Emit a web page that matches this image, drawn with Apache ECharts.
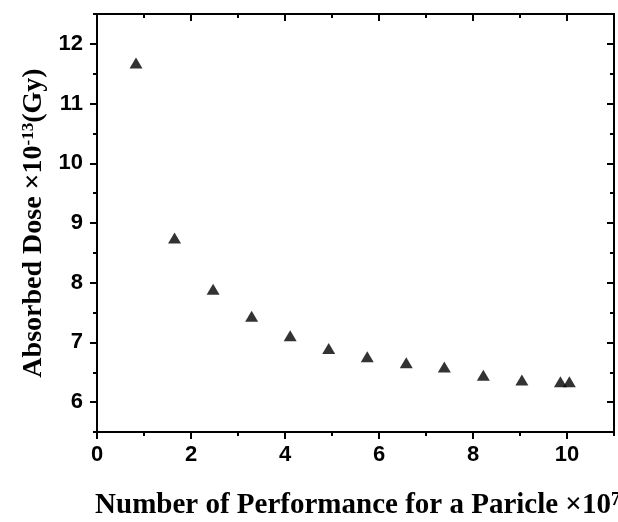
<!DOCTYPE html>
<html>
<head>
<meta charset="utf-8">
<script src="https://cdn.jsdelivr.net/npm/echarts@6/dist/echarts.min.js"></script>
<style>
  html, body { margin: 0; padding: 0; background: #fff; }
  #main { width: 618px; height: 522px; }
</style>
</head>
<body>
<div id="main"></div>
<script>
// particles (x10^7) vs absorbed dose (x10^-13 Gy)
const particles = [0.83, 1.65, 2.47, 3.29, 4.11, 4.93, 5.75, 6.58, 7.39, 8.22, 9.04, 9.86, 10.05];
const dose = [11.68, 8.75, 7.89, 7.44, 7.11, 6.90, 6.76, 6.66, 6.59, 6.45, 6.37, 6.34, 6.34];

const xMajor = [0, 2, 4, 6, 8, 10];
const xMinor = [1, 3, 5, 7, 9, 11];
const yMajor = [6, 7, 8, 9, 10, 11, 12];
const yMinor = [5.5, 6.5, 7.5, 8.5, 9.5, 10.5, 11.5, 12.5];

const chart = echarts.init(document.getElementById('main'));

const lineStyle = { color: '#000', width: 2 };
const labelFont = {
  fontFamily: 'Liberation Sans, Arial, sans-serif',
  fontWeight: 'bold',
  fontSize: 22,
  color: '#000',
};
const titleFont = {
  fontFamily: 'Liberation Serif, Times New Roman, serif',
  fontWeight: 'bold',
  fontSize: 28,
  color: '#000',
};

// one axis = one set of ticks; major/minor and the mirrored sides are stacked
function xAxisOf(position, ticks, len, inside, extra) {
  return Object.assign({
    type: 'value',
    position,
    min: 0,
    max: 11,
    axisLine: { show: true, onZero: false, lineStyle },
    axisTick: {
      show: true, inside, length: len, customValues: ticks, lineStyle,
    },
    axisLabel: { show: false },
    splitLine: { show: false },
  }, extra || {});
}

function yAxisOf(position, ticks, len, inside, extra) {
  return Object.assign({
    type: 'value',
    position,
    min: 5.5,
    max: 12.5,
    axisLine: { show: true, onZero: false, lineStyle },
    axisTick: {
      show: true, inside, length: len, customValues: ticks, lineStyle,
    },
    axisLabel: { show: false },
    splitLine: { show: false },
  }, extra || {});
}

const option = {
  backgroundColor: '#fff',
  animation: false,
  grid: {
    left: 97, right: 4, top: 14, bottom: 90,
    containLabel: false,
    outerBoundsMode: 'none', // the x title is allowed to run off the page
  },
  xAxis: [
    xAxisOf('bottom', xMajor, 7, false, {
      axisLabel: Object.assign({ show: true, margin: 12, customValues: xMajor }, labelFont),
      name: '{t|Number of Performance for a Paricle ×10}{sup|7}',
      nameLocation: 'middle',
      nameGap: 59,
      nameTextStyle: {
        padding: [0, 0, 0, 4],
        rich: {
          t: Object.assign({}, titleFont, { fontSize: 29 }),
          sup: Object.assign({}, titleFont, { fontSize: 18, verticalAlign: 'top' }),
        },
      },
    }),
    xAxisOf('bottom', xMinor, 4, false),
    xAxisOf('top', xMajor, 7, true),
    xAxisOf('top', xMinor, 4, true),
  ],
  yAxis: [
    yAxisOf('left', yMajor, 7, false, {
      axisLabel: Object.assign({ show: true, margin: 14, customValues: yMajor }, labelFont),
      name: '{t|Absorbed Dose ×10}{sup|-13}{t|(Gy)}',
      nameLocation: 'middle',
      nameGap: 44,
      nameTextStyle: {
        rich: {
          t: Object.assign({}, titleFont),
          sup: Object.assign({}, titleFont, { fontSize: 17, verticalAlign: 'top' }),
        },
      },
    }),
    yAxisOf('left', yMinor, 4, false),
    yAxisOf('right', yMajor, 7, true),
    yAxisOf('right', yMinor, 4, true),
  ],
  series: [
    {
      type: 'scatter',
      xAxisIndex: 0,
      yAxisIndex: 0,
      symbol: 'triangle',
      symbolSize: [13, 11],
      itemStyle: { color: '#000' },
      data: particles.map((p, i) => [p, dose[i]]),
    },
  ],
};

chart.setOption(option);
</script>
</body>
</html>
